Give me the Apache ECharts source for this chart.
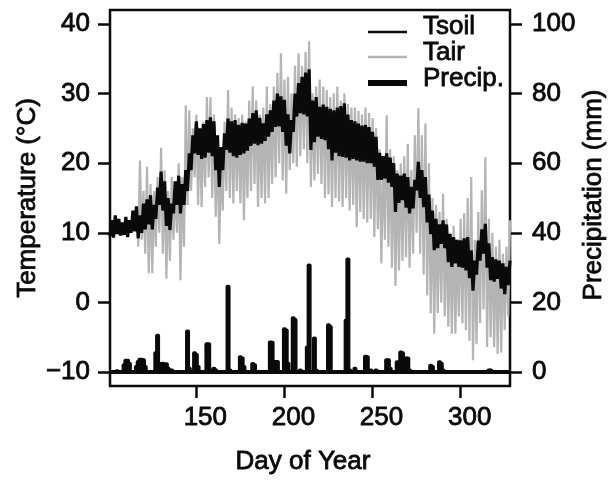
<!DOCTYPE html>
<html><head><meta charset="utf-8">
<script src="https://cdn.jsdelivr.net/npm/echarts@6/dist/echarts.min.js"></script>
<style>html,body{margin:0;padding:0;background:#fff}#c{width:615px;height:483px}</style>
</head><body><div id="c"></div>
<script>
// ---- data ----
const xTicks = [150, 200, 250, 300];
const tempTicks = [-10, 0, 10, 20, 30, 40];
const precipTicks = [0, 20, 40, 60, 80, 100];

const tsoilDays = [101,103,105,107,109,111,113,115,117,119,121,123,125,127,129,131,133,135,137,139,141,143,145,147,149,151,153,155,157,159,161,163,165,167,169,171,173,175,177,179,181,183,185,187,189,191,193,195,197,199,201,203,205,207,209,211,213,215,217,219,221,223,225,227,229,231,233,235,237,239,241,243,245,247,249,251,253,255,257,259,261,263,265,267,269,271,273,275,277,279,281,283,285,287,289,291,293,295,297,299,301,303,305,307,309,311,313,315,317,319,321,323,325,327];
const tsoilMin = [9.5,9.3,9.8,9.6,9.7,9.4,10.0,10.2,9.2,10.0,10.5,11.2,10.5,12.0,14.0,13.2,11.0,10.4,12.8,14.0,12.8,14.0,16.0,19.0,21.4,21.2,20.6,20.8,21.5,21.0,19.0,16.6,19.0,21.9,21.5,21.0,20.8,21.2,21.4,21.8,22.5,22.8,22.6,22.8,23.2,23.8,24.5,25.2,25.3,24.5,22.5,21.4,24.5,26.7,27.2,27.0,26.7,21.9,23.0,23.8,23.5,23.3,22.0,20.4,21.5,21.0,20.9,20.8,20.4,20.6,20.4,20.2,20.2,20.0,20.0,19.5,17.6,17.6,17.8,17.2,16.6,13.0,14.3,14.7,13.6,12.8,13.5,16.1,15.0,13.7,11.5,9.8,7.5,7.8,8.4,7.8,5.8,5.1,5.6,5.1,5.0,4.6,3.5,1.7,4.0,6.0,7.0,5.0,3.2,3.0,3.4,2.0,1.2,2.5];
const tsoilMax = [11.8,12.5,12.0,11.5,12.3,11.8,13.2,13.8,12.5,14.2,14.8,15.4,14.0,16.5,18.8,17.4,15.0,14.2,17.4,18.2,17.0,19.0,21.4,24.0,26.0,25.0,25.6,26.2,26.6,26.0,24.0,22.3,24.3,26.4,26.0,26.2,25.5,25.8,25.7,26.4,27.2,27.6,26.5,25.7,27.0,27.6,29.0,30.0,29.6,29.1,27.0,26.2,30.0,31.5,32.4,33.0,33.5,29.0,29.5,28.1,28.4,28.1,27.8,27.6,28.0,28.2,28.6,27.0,26.2,26.0,25.7,25.4,25.5,25.2,24.5,23.8,21.5,21.0,21.4,20.8,20.0,18.5,18.2,18.5,18.0,16.6,17.6,20.2,19.0,18.0,15.5,13.2,12.0,11.2,11.8,11.2,9.8,9.4,9.0,8.9,9.2,9.4,7.5,6.0,8.9,10.5,11.3,8.5,6.5,6.2,6.0,5.6,5.1,6.0];

const tairDays = [117,119,121,123,125,127,129,131,133,135,137,139,141,143,145,147,149,151,153,155,157,159,161,163,165,167,169,171,173,175,177,179,181,183,185,187,189,191,193,195,197,199,201,203,205,207,209,211,213,215,217,219,221,223,225,227,229,231,233,235,237,239,241,243,245,247,249,251,253,255,257,259,261,263,265,267,269,271,273,275,277,279,281,283,285,287,289,291,293,295,297,299,301,303,305,307,309,311,313,315,317,319,321,323,325,327];
const tairMin = [8.0,9.0,7.0,4.2,4.2,8.0,10.0,7.0,3.4,6.0,9.0,10.0,3.2,8.0,14.0,16.0,18.0,14.0,13.7,16.6,18.0,15.0,12.3,8.4,13.2,16.0,15.0,14.2,16.0,14.2,11.8,15.0,16.0,17.0,13.7,15.0,14.2,15.0,17.0,18.0,20.0,17.5,15.6,19.0,20.0,19.5,21.0,22.0,20.0,16.6,17.5,18.5,17.0,15.0,15.5,13.7,15.0,14.5,13.7,15.0,13.2,14.0,10.8,13.0,12.0,11.5,12.0,9.4,10.5,5.6,9.0,8.0,5.0,2.4,4.6,6.0,6.5,5.0,7.0,10.0,7.0,4.0,1.0,-1.6,-4.5,-1.5,0.0,-2.0,-3.5,-4.5,-4.5,-2.0,-3.0,-4.0,-5.5,-8.3,-6.0,-3.0,-1.0,-6.4,-5.0,-6.4,-7.4,-7.2,-4.0,-2.0];
const tairMax = [20.4,16.0,19.5,17.0,16.0,18.0,22.2,19.0,16.0,18.0,17.0,20.0,18.0,28.3,27.6,25.0,27.0,25.0,26.0,29.5,29.5,27.0,24.0,20.0,26.0,30.5,28.0,27.0,26.5,27.0,26.0,29.0,31.0,29.0,27.0,28.0,31.0,28.5,31.0,33.0,35.8,32.0,32.4,30.0,34.0,35.8,34.0,36.0,37.5,30.0,31.0,32.0,31.0,30.5,29.5,30.0,31.0,29.0,30.0,28.5,28.0,28.0,27.5,27.0,28.0,27.2,26.5,25.0,22.0,21.0,26.9,22.0,21.0,19.0,20.0,21.0,22.8,19.0,24.0,27.9,24.0,25.7,20.0,15.0,14.0,13.0,15.6,12.0,10.0,11.0,9.0,12.0,12.8,15.0,18.0,9.0,13.0,16.1,20.9,12.0,10.0,8.0,9.0,7.0,8.0,11.8];

const precipDays = [103,105,109,110,111,112,116,117,118,119,120,121,127,128,129,130,131,132,133,134,135,136,140,145,146,149,150,151,153,156,157,158,160,161,168,169,170,175,176,177,182,183,187,192,193,194,195,196,200,201,202,205,206,209,213,214,217,218,221,225,226,229,235,236,237,240,246,247,249,252,258,259,260,264,266,267,269,270,271,274,278,283,284,288,289,290,301,316,317];
const precipMm = [0.5,0.8,2.5,3.8,3.8,3.0,2.0,3.5,4.1,4.1,4.0,2.0,6.0,11.0,3.0,2.5,3.0,2.5,2.8,1.5,1.0,1.0,0.5,12.2,1.5,6.0,5.5,2.0,0.5,8.6,8.6,1.0,1.5,1.0,25.1,1.0,0.5,4.8,4.5,2.0,2.9,2.5,0.5,9.1,9.0,3.5,3.5,3.5,12.9,12.5,3.0,16.0,15.5,1.0,7.6,31.2,10.2,1.0,0.5,14.0,13.5,0.5,15.3,32.9,1.0,1.5,5.0,4.8,1.0,1.0,4.0,4.0,1.5,3.4,6.2,6.0,4.5,4.5,1.0,0.5,0.5,2.4,2.0,3.4,3.0,1.0,0.5,1.0,1.0];

// ---- build series ----
// each sample holds the low and high reading of a two-day window: draw low, then high
function band(days, lo, hi) {
  const out = [];
  days.forEach((d, i) => { out.push([d, lo[i]]); out.push([d + 1, hi[i]]); });
  return out;
}
const FONT = "'Liberation Sans', Arial, Helvetica, sans-serif";
const INK = '#0a0a0a';
const GRAY = '#b4b4b4';
const FS = 26;
const TB = 0.8; // slight stroke to match the heavier type of the reference

const chart = echarts.init(document.getElementById('c'), null, {renderer: 'canvas'});
const labelStyle = {fontSize: FS, color: INK, fontFamily: FONT, textBorderColor: INK, textBorderWidth: TB};
const txt = (s, x, y, align, rot) => ({
  type: 'text', x: x, y: y, rotation: rot || 0,
  style: {text: s, fontSize: FS, fontFamily: FONT, fill: INK, stroke: INK, lineWidth: TB,
    align: align, verticalAlign: 'middle', textAlign: align, textVerticalAlign: 'middle'}
});
chart.setOption({
  animation: false,
  grid: {left: 110, right: 105, top: 10, bottom: 97, show: true, borderColor: INK, borderWidth: 2.5, backgroundColor: 'transparent'},
  xAxis: {
    type: 'value', min: 101, max: 328,
    axisLine: {show: false, onZero: false}, splitLine: {show: false},
    axisTick: {show: true, length: 12, lineStyle: {color: INK, width: 2.5}, customValues: xTicks},
    axisLabel: Object.assign({customValues: xTicks, margin: 19, padding: [0, 0, 0, 18]}, labelStyle)
  },
  yAxis: [{
    type: 'value', min: -12, max: 42, position: 'left',
    axisLine: {show: false, onZero: false}, splitLine: {show: false},
    axisTick: {show: true, length: 12, lineStyle: {color: INK, width: 2.5}, customValues: tempTicks},
    axisLabel: Object.assign({customValues: tempTicks, margin: 20, formatter: v => String(v).replace('-', '\u2212')}, labelStyle)
  }, {
    type: 'value', min: -4, max: 104, position: 'right',
    axisLine: {show: false, onZero: false}, splitLine: {show: false},
    axisTick: {show: true, length: 12, lineStyle: {color: INK, width: 2.5}, customValues: precipTicks},
    axisLabel: Object.assign({customValues: precipTicks, margin: 22}, labelStyle)
  }],
  series: [{
    name: 'Tair', type: 'line', yAxisIndex: 0, data: band(tairDays, tairMin, tairMax),
    showSymbol: false, symbol: 'none', lineStyle: {color: GRAY, width: 2.2}, z: 2
  }, {
    name: 'Tsoil', type: 'line', yAxisIndex: 0, data: band(tsoilDays, tsoilMin, tsoilMax),
    showSymbol: false, symbol: 'none', lineStyle: {color: INK, width: 3.2}, z: 3
  }, {
    name: 'Precip.', type: 'bar', yAxisIndex: 1, barWidth: 5,
    data: precipDays.map((d, i) => [d, precipMm[i]]),
    itemStyle: {color: INK, borderRadius: [2, 2, 0, 0]}, z: 4,
    markLine: {silent: true, symbol: ['none', 'none'], label: {show: false},
      lineStyle: {color: INK, width: 4, type: 'solid'}, data: [{yAxis: 0}]}
  }],
  graphic: [
    {type: 'line', shape: {x1: 368, y1: 32, x2: 407, y2: 32}, style: {stroke: INK, lineWidth: 2.5}},
    {type: 'line', shape: {x1: 368, y1: 57, x2: 407, y2: 57}, style: {stroke: GRAY, lineWidth: 2.5}},
    {type: 'line', shape: {x1: 368, y1: 83, x2: 407, y2: 83}, style: {stroke: INK, lineWidth: 6}},
    txt('Tsoil', 423, 27, 'left'),
    txt('Tair', 423, 52.5, 'left'),
    txt('Precip.', 423, 79, 'left'),
    txt('Day of Year', 303, 462, 'center'),
    txt('Temperature (°C)', 28, 198, 'center', Math.PI / 2),
    txt('Precipitation (mm)', 594, 195, 'center', Math.PI / 2)
  ]
});
</script></body></html>
